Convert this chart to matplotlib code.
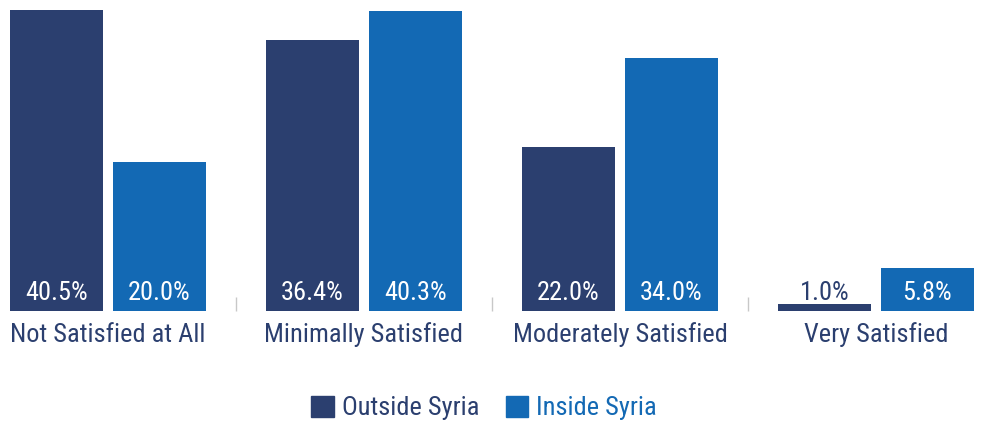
import numpy as np
import matplotlib
matplotlib.use("Agg")
import matplotlib.pyplot as plt
from matplotlib.patches import Patch

plt.rcParams['font.family'] = ['Roboto Condensed', 'Archivo Narrow', 'DejaVu Sans']

# Satisfaction levels, share of respondents (%)
categories = ['Not Satisfied at All', 'Minimally Satisfied', 'Moderately Satisfied', 'Very Satisfied']
outside = [40.5, 36.4, 22.0, 1.0]
inside = [20.0, 40.3, 34.0, 5.8]
series_names = ['Outside Syria', 'Inside Syria']

navy = '#2B3F6F'
blue = '#1369B4'

fig = plt.figure(figsize=(9.95, 4.24), dpi=100)
ax = fig.add_axes([0, 113 / 424, 1, 311 / 424])

x = np.arange(len(categories))
w = 0.363
off = 0.201
ax.bar(x - off, outside, w, color=navy)
ax.bar(x + off, inside, w, color=blue)

ax.set_xlim(-108 / 256, (995 - 108) / 256)
ax.set_ylim(0, 311 / 7.432)

fs = 19
for xs, vals in [(x - off, outside), (x + off, inside)]:
    for xi, v in zip(xs, vals):
        col = 'white' if v > 3 else navy
        ax.text(xi, 1.48, f'{v:.1f}%', ha='center', va='baseline',
                color=col, fontsize=fs)

for xi, c in zip(x, categories):
    ax.text(xi, -31 / 7.432, c, ha='center', va='baseline', color=navy,
            fontsize=fs, clip_on=False)

# small separators between groups
ax.set_xticks(x[:-1] + 0.5)
ax.tick_params(axis='x', direction='in', length=10, width=1, color='#C8C8C8',
               labelbottom=False)
ax.set_yticks([])
for s in ax.spines.values():
    s.set_visible(False)

handles = [Patch(color=navy), Patch(color=blue)]
fig.legend(handles, series_names, loc='center', bbox_to_anchor=(484 / 995, 1 - 408 / 424),
           ncol=2, frameon=False, fontsize=fs, labelcolor=[navy, blue],
           handlelength=0.85, handleheight=0.85, handletextpad=0.3,
           columnspacing=1.0, borderaxespad=0)

fig.savefig('out.png', dpi=100)
